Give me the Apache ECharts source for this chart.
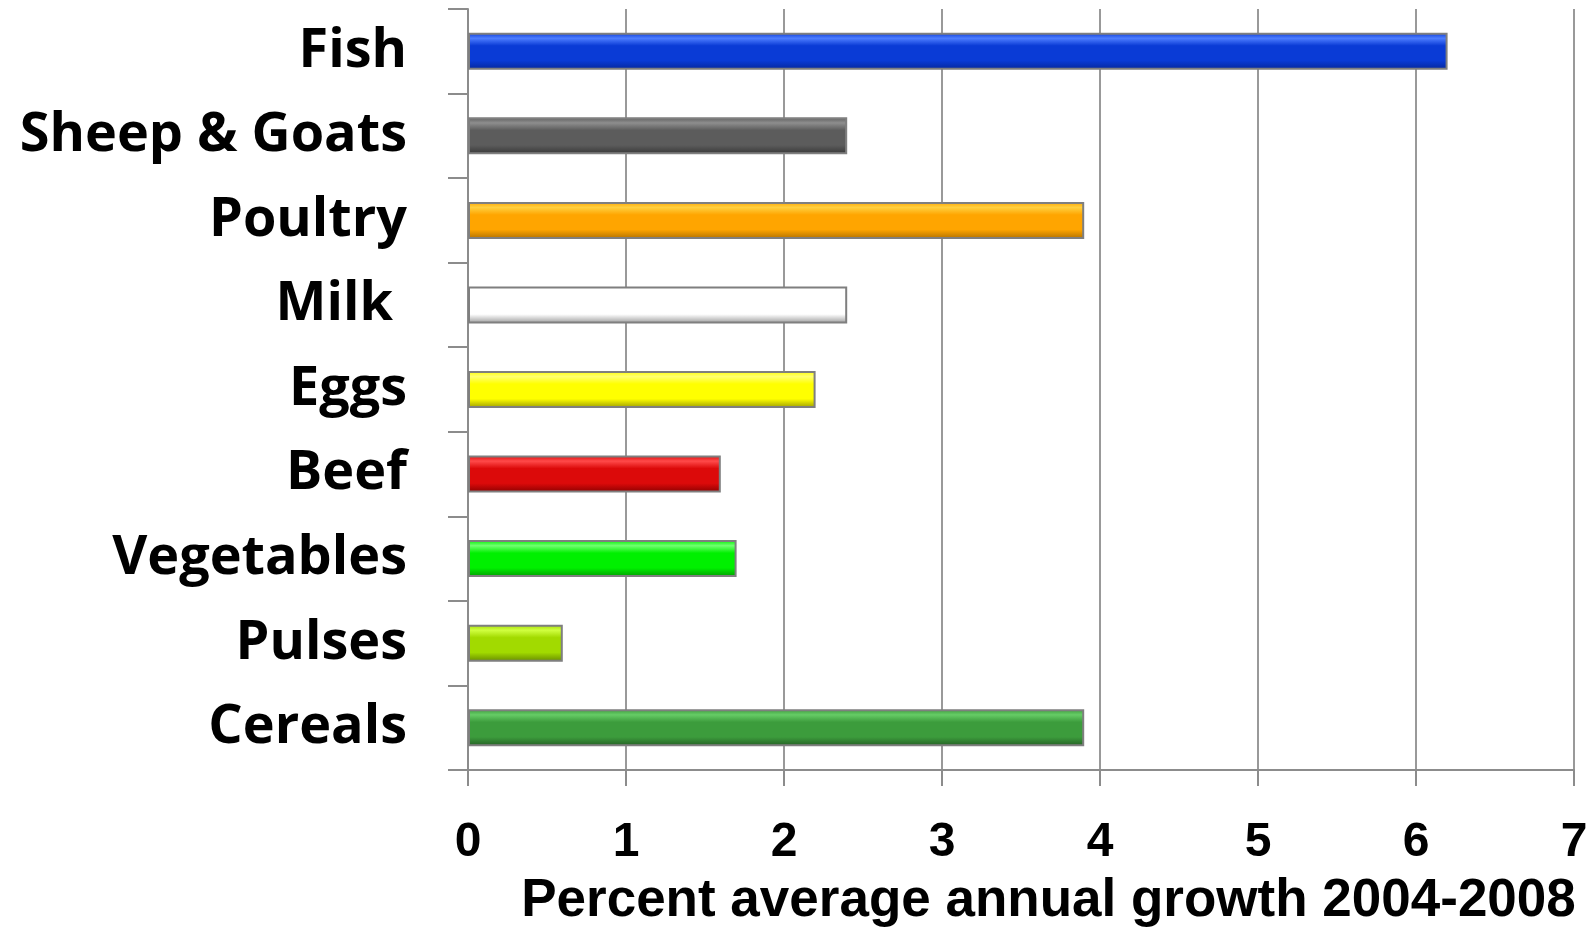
<!DOCTYPE html>
<html>
<head>
<meta charset="utf-8">
<script src="https://cdn.jsdelivr.net/npm/echarts@6/dist/echarts.min.js"></script>
<style>
html,body{margin:0;padding:0;background:#fff;}
#chart{width:1593px;height:929px;}
</style>
</head>
<body>
<div id="chart"></div>
<script>
// Data (top to bottom)
var categories = ["Fish", "Sheep & Goats", "Poultry", "Milk ", "Eggs", "Beef", "Vegetables", "Pulses", "Cereals"];
var growth = [6.2, 2.4, 3.9, 2.4, 2.2, 1.6, 1.7, 0.6, 3.9];
var xTicks = [0, 1, 2, 3, 4, 5, 6, 7];
var axisTitle = "Percent average annual growth 2004-2008";

// Styles: [light, main, dark]
var barColors = [
  ["#4d7dff", "#0a3bd6", "#06279a"],
  ["#8e8e8e", "#5c5c5c", "#363636"],
  ["#ffd040", "#ffa500", "#b07000"],
  ["#ffffff", "#ffffff", "#9a9a9a"],
  ["#ffff70", "#ffff00", "#9c9c00"],
  ["#ff4a4a", "#dc0a0a", "#8a0000"],
  ["#70ff70", "#00f000", "#009a00"],
  ["#d0ff40", "#a2da00", "#668a00"],
  ["#66cc66", "#3c9c3c", "#245e24"]
];

function grad(c) {
  return new echarts.graphic.LinearGradient(0, 0, 0, 1, [
    {offset: 0, color: c[1]},
    {offset: 0.15, color: c[0]},
    {offset: 0.35, color: c[1]},
    {offset: 0.75, color: c[1]},
    {offset: 1, color: c[2]}
  ]);
}

var chart = echarts.init(document.getElementById('chart'), null, {renderer: 'canvas'});
chart.setOption({
  animation: false,
  backgroundColor: '#ffffff',
  grid: {left: 468, right: 19, top: 9, bottom: 159, containLabel: false, outerBoundsMode: 'none'},
  xAxis: {
    type: 'value',
    min: xTicks[0],
    max: xTicks[xTicks.length - 1],
    interval: 1,
    name: axisTitle,
    nameLocation: 'middle',
    nameGap: 105,
    nameTextStyle: {
      fontFamily: 'Liberation Sans, Arial, sans-serif',
      fontWeight: 'bold',
      fontSize: 53,
      color: '#000',
      verticalAlign: 'top',
      padding: [0, 0, 0, 55]
    },
    axisLine: {show: true, lineStyle: {color: '#8c8c8c', width: 2}},
    axisTick: {show: true, length: 16, lineStyle: {color: '#8c8c8c', width: 2}},
    splitLine: {show: true, lineStyle: {color: '#999999', width: 2}},
    axisLabel: {
      margin: 49,
      fontFamily: 'Liberation Sans, Arial, sans-serif',
      fontWeight: 'bold',
      fontSize: 48,
      color: '#000'
    }
  },
  yAxis: {
    type: 'category',
    inverse: true,
    data: categories,
    axisLine: {show: true, lineStyle: {color: '#8c8c8c', width: 2}},
    axisTick: {show: true, length: 20, lineStyle: {color: '#8c8c8c', width: 2}},
    splitLine: {show: false},
    axisLabel: {
      margin: 61,
      fontFamily: 'Open Sans, Lato, sans-serif',
      fontWeight: 'bold',
      fontSize: 54,
      color: '#000',
      padding: [5, 0, 0, 0]
    }
  },
  series: [{
    type: 'bar',
    barWidth: 37,
    data: growth.map(function (v, i) {
      return {
        value: v,
        itemStyle: {color: grad(barColors[i]), borderColor: '#7f7f7f', borderWidth: 2}
      };
    })
  }]
});
</script>
</body>
</html>
